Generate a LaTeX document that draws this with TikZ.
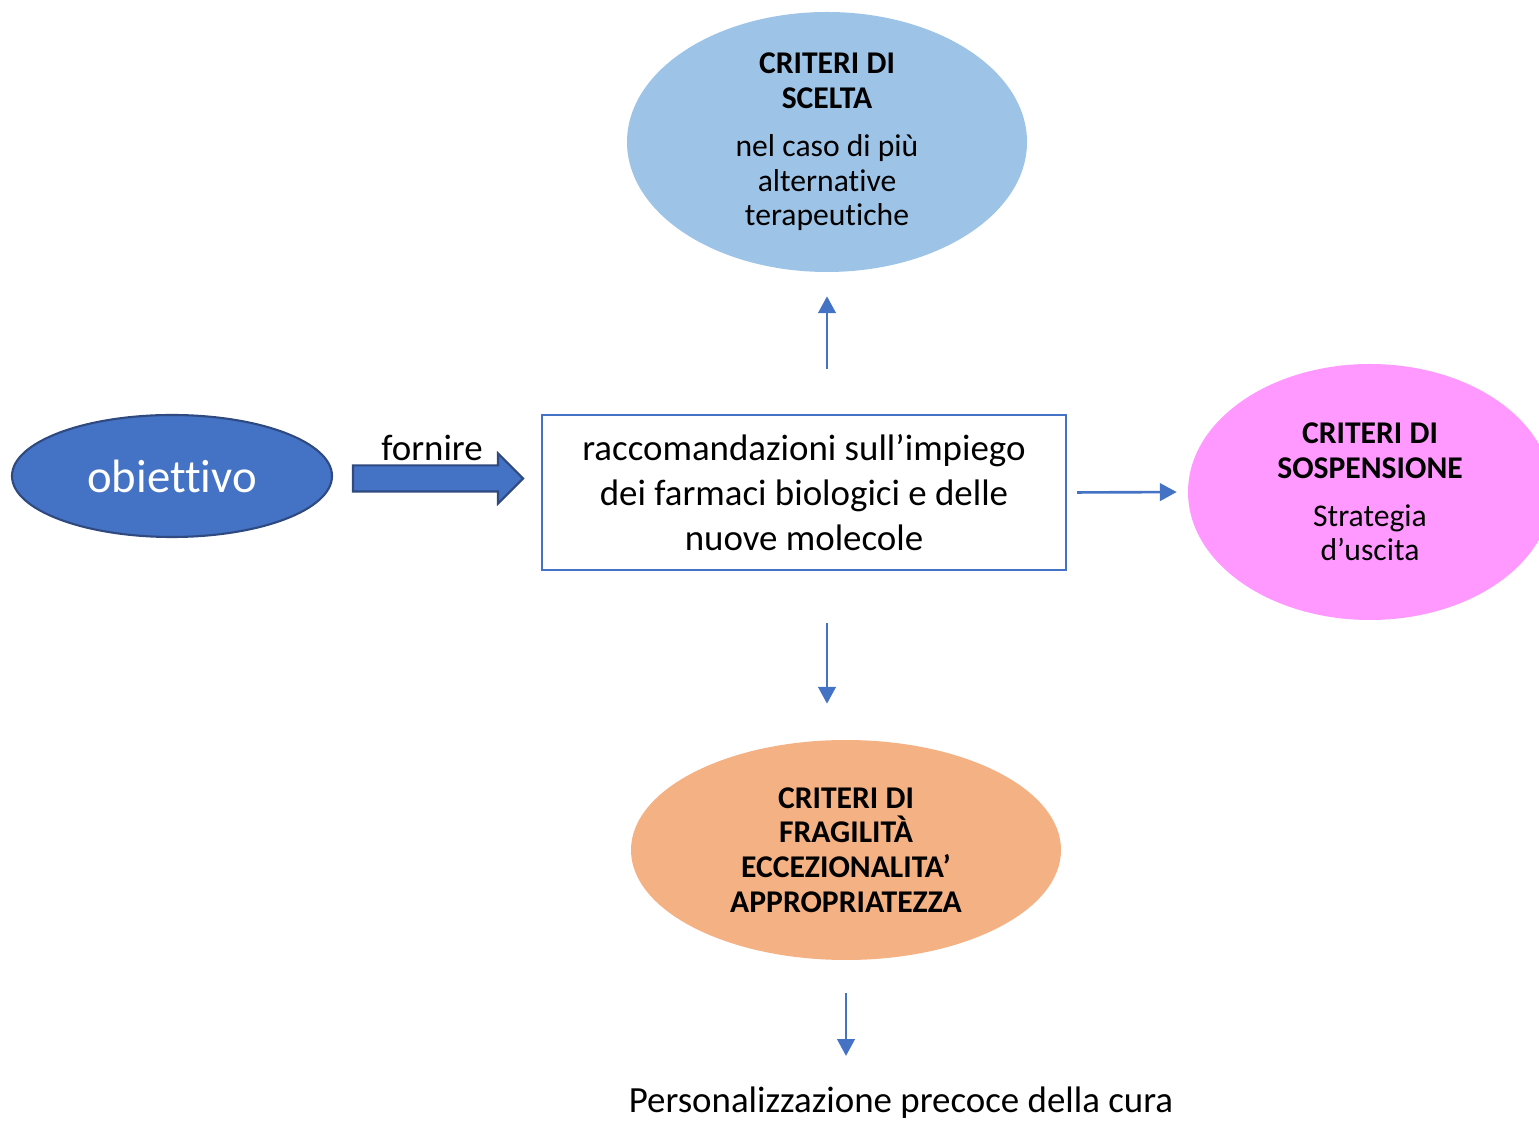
\documentclass[tikz,border=0pt]{standalone}
\usepackage{fontspec}
\setmainfont{Carlito}[Ligatures={NoCommon,NoContextual},RawFeature={-liga;-dlig;-clig}]
\usetikzlibrary{arrows.meta,shapes.geometric,shapes.arrows}

\definecolor{blu}{HTML}{4472C4}
\definecolor{bluscuro}{HTML}{2F4A80}
\definecolor{celeste}{HTML}{9DC3E6}
\definecolor{rosa}{HTML}{FF99FF}
\definecolor{arancio}{HTML}{F4B183}

\begin{document}
\begin{tikzpicture}[line width=0.75pt,>={Triangle[length=4.8pt,width=5pt]},
  ovale/.style={ellipse,inner sep=0pt,align=center,font=\fontsize{9}{9.9}\selectfont},
  freccia/.style={->,blu,line width=0.75pt}]
  \useasboundingbox (0,0) rectangle (15.39,-11.21);
  % obiettivo + freccia piena
  \node[ellipse,fill=blu,draw=bluscuro,line width=0.6pt,minimum width=3.2cm,minimum height=1.22cm,inner sep=0pt,text=white,font=\fontsize{13.3}{16}\selectfont] (obiettivo) at (1.72,-4.76){obiettivo};
  \node[single arrow,fill=blu,draw=bluscuro,line width=0.6pt,inner sep=0.12cm,single arrow head extend=0.12cm,minimum height=1.70cm,shape border rotate=0] (freccia) at (4.315,-4.785){};
  \node[font=\fontsize{10.5}{12.8}\selectfont] (fornire) at (4.32,-4.48){fornire};
  % riquadro centrale
  \node[draw=blu,line width=0.6pt,minimum width=5.24cm,minimum height=1.55cm,align=center,font=\fontsize{10.5}{12.8}\selectfont] (racc) at (8.04,-4.925){raccomandazioni sull’impiego\\dei farmaci biologici e delle\\nuove molecole};
  % criteri
  \node[ovale,fill=celeste,minimum width=4.0cm,minimum height=2.6cm] (scelta) at (8.27,-1.42){\textbf{CRITERI DI}\\\textbf{SCELTA}\\[3.7pt]nel caso di più\\alternative\\terapeutiche};
  \node[ovale,fill=rosa,minimum width=3.64cm,minimum height=2.56cm] (sosp) at (13.70,-4.92){\textbf{CRITERI DI}\\\textbf{SOSPENSIONE}\\[3.7pt]Strategia\\d’uscita};
  \node[ovale,fill=arancio,minimum width=4.3cm,minimum height=2.2cm,font=\fontsize{9}{9.9}\bfseries] (fragil) at (8.46,-8.50){CRITERI DI\\FRAGILITÀ\\ECCEZIONALITA’\\APPROPRIATEZZA};
  \node[inner sep=0pt,font=\fontsize{10.5}{12.8}\selectfont] (cura) at (9.01,-11.03){Personalizzazione precoce della cura};
  % frecce
  \draw[freccia,shorten <=0.45cm,shorten >=0.23cm] (scelta.south |- racc.north) -- (scelta.south);
  \draw[freccia,shorten <=0.1cm,shorten >=0.1cm] (racc.east) -- (sosp.west);
  \draw[freccia,shorten <=0.52cm,shorten >=0.35cm] (scelta.south |- racc.south) -- (scelta.south |- fragil.north);
  \draw[freccia,shorten <=0.32cm,shorten >=0.3cm] (fragil.south) -- (fragil.south |- cura.north);
\end{tikzpicture}
\end{document}
